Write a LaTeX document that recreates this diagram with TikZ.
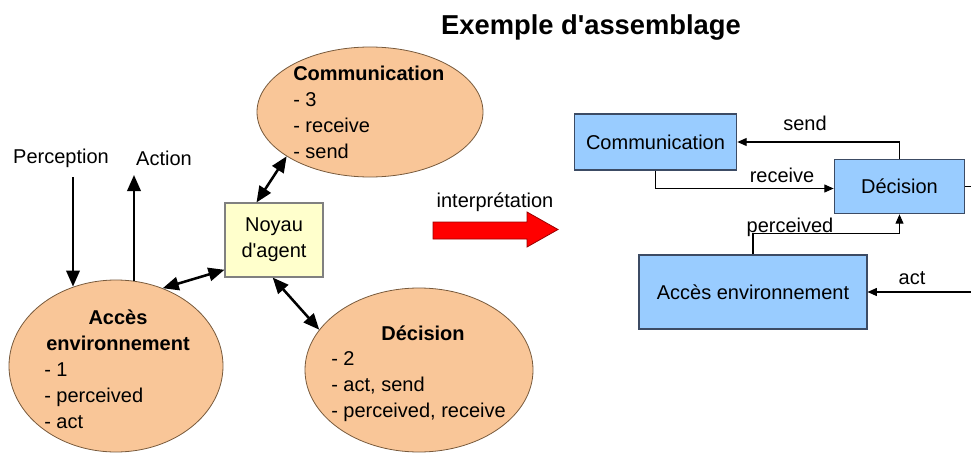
\documentclass[tikz,border=0pt]{standalone}
\usepackage{fontspec}
\setmainfont{Liberation Sans}
\usetikzlibrary{arrows.meta,shapes.geometric}

\definecolor{peach}{RGB}{249,198,152}
\definecolor{peachline}{RGB}{120,90,60}
\definecolor{noyaufill}{RGB}{255,255,204}
\definecolor{boxblue}{RGB}{153,204,255}
\definecolor{boxline}{RGB}{60,75,100}

\tikzset{
  txt/.style={inner sep=0.75pt,font=\fontsize{15}{19.5}\selectfont},
  btxt/.style={txt,font=\fontsize{15}{19.5}\selectfont\bfseries},
  module/.style={ellipse,draw=peachline,fill=peach,line width=0.6pt,inner sep=0pt},
  rbox/.style={draw=boxline,fill=boxblue,line width=0.8pt,inner sep=0pt,txt},
  link/.style={line width=1.9pt,{Triangle[length=12pt,width=10pt]}-{Triangle[length=12pt,width=10pt]}},
  io/.style={line width=1.9pt,-{Triangle[length=12pt,width=10pt]}},
  conn/.style={line width=0.8pt,-{Triangle[length=7pt,width=6pt]}},
}

\begin{document}
\begin{tikzpicture}[x=0.75pt,y=0.75pt,yscale=-1,xscale=1]
\clip (0,0) rectangle (971,453);
\fill[white] (0,0) rectangle (971,453);
% Title
\draw (591,27) node [btxt,font=\fontsize{20.5}{24}\selectfont\bfseries] (title) {Exemple d\textquotesingle assemblage};
% Modules
\draw (370,112) node [module,minimum width=169.5pt,minimum height=97.5pt] (comm) {};
\draw (116,366) node [module,minimum width=160.5pt,minimum height=129pt] (acces) {};
\draw (419,370) node [module,minimum width=171pt,minimum height=123pt] (dec) {};
\draw (274,240) node [draw=gray,fill=noyaufill,line width=0.8pt,minimum width=73.5pt,minimum height=55.5pt,txt,align=center] (noyau) {Noyau\\d\textquotesingle agent};
% Text Node
\draw (292,73) node [anchor=west] [btxt] (commtitle) {Communication};
\draw (292,126) node [anchor=west] [txt,align=left] (commtext) {- 3\\- receive\\- send};
% Text Node
\draw (118,330) node [btxt,align=center] (accestitle) {Accès\\environnement};
\draw (43,396) node [anchor=west] [txt,align=left] (accestext) {- 1\\- perceived\\- act};
% Text Node
\draw (423,333) node [btxt] (dectitle) {Décision};
\draw (330,387) node [anchor=west] [txt,align=left] (dectext) {- 2\\- act, send\\- perceived, receive};
% Links to the core
\draw[link] (noyau.115) -- (comm.208);
\draw[link] (noyau.211) -- (acces.59);
\draw[link] (noyau.268) -- (dec.158);
% Perception / Action
\draw (61,158) node [txt] (perc) {Perception};
\draw (164,158) node [txt] (act) {Action};
\coordinate (percin) at (73,177);
\coordinate (actout) at (134,175);
\draw[io] (percin) -- (percin |- acces.118.6);
\draw[io] (actout |- acces.78) -- (actout);
% Interpretation arrow
\draw (495,202) node [txt] (interp) {interprétation};
\draw[fill=red,draw=red!60!black,line width=0.6pt] (433,222) -- (527,222) -- (527,212) -- (558,229.5) -- (527,247) -- (527,239) -- (433,239) -- cycle;
% Assembly
\draw (655.5,142) node [rbox,minimum width=122pt,minimum height=42pt] (rcomm) {Communication};
\draw (899.5,186.5) node [rbox,minimum width=98pt,minimum height=41pt] (rdec) {Décision};
\draw (753,292) node [rbox,minimum width=171pt,minimum height=55.5pt] (racc) {Accès environnement};
\draw[conn] (rdec.north) |- (rcomm.east);
\draw[conn] (rcomm.south) |- ([yshift=1.5]rdec.west);
\draw[conn] (racc.north) -- ++(0,-21) -| (rdec.south);
\draw[conn] (rdec.east) -- ++(40,0) |- (racc.east);
% Text Node
\draw (805,123) node [txt] (lsend) {send};
\draw (782,175) node [txt] (lreceive) {receive};
\draw (790,227) node [txt] (lperceived) {perceived};
\draw (912,278) node [txt] (lact) {act};
\end{tikzpicture}
\end{document}
